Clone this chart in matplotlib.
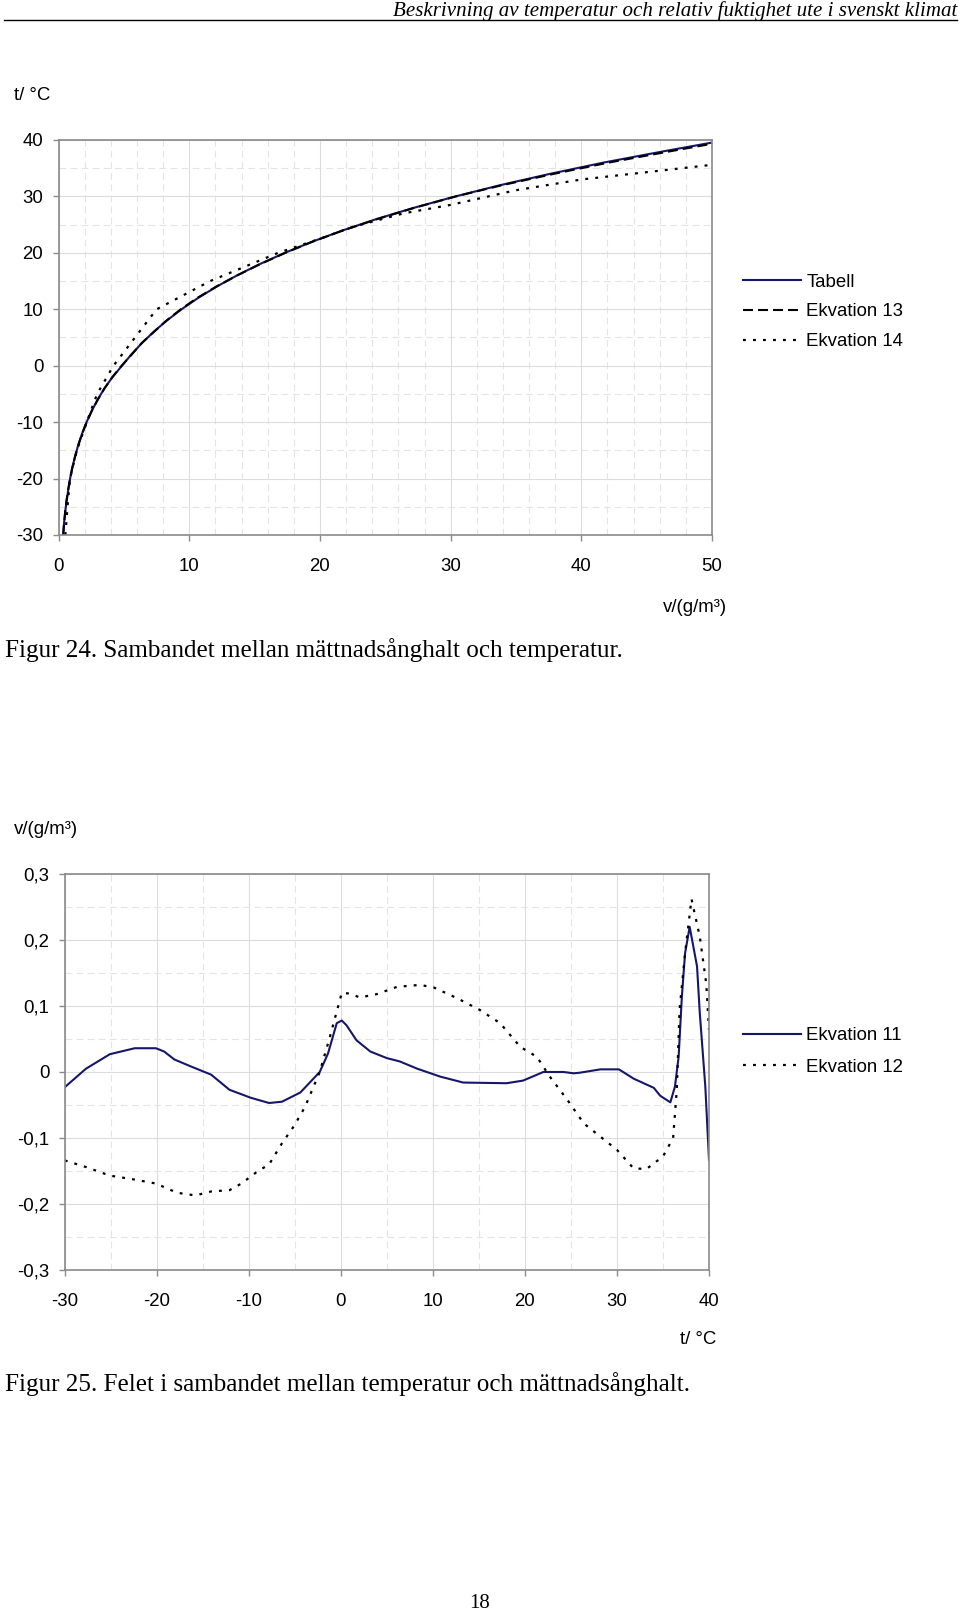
import numpy as np
import matplotlib
matplotlib.use('Agg')
import matplotlib.pyplot as plt
from matplotlib.lines import Line2D

# Figur 24: temperatur mot mättnadsånghalt
tabell_t = [-30, -28, -26, -24, -22, -20, -18, -16, -14, -12, -10, -8, -6, -4, -2, 0,
            2, 4, 6, 8, 10, 12, 14, 16, 18, 20, 22, 24, 26, 28, 30, 32, 34, 36, 38, 40]
tabell_v = [0.34, 0.41, 0.50, 0.61, 0.74, 0.88, 1.05, 1.27, 1.51, 1.80, 2.14, 2.54, 2.99, 3.51, 4.13, 4.85,
            5.57, 6.37, 7.27, 8.28, 9.41, 10.67, 12.08, 13.65, 15.39, 17.31, 19.43, 21.77, 24.34, 27.21,
            30.36, 33.8, 37.6, 41.7, 46.3, 51.1]
ekv13_v = [0.36, 0.42, 0.50, 0.60, 0.73, 0.88, 1.06, 1.27, 1.52, 1.81, 2.15, 2.54, 3.00, 3.52, 4.12, 4.82,
           5.60, 6.35, 7.30, 8.25, 9.35, 10.60, 12.05, 13.66, 15.42, 17.35, 19.45, 21.80, 24.40, 27.25,
           30.40, 33.95, 37.9, 42.1, 46.8, 51.6]
ekv14_t = [-30, -25, -20, -15, -10, -5, 0, 5, 10, 15, 20, 22.5, 24.6, 27.0, 28.5, 31.1, 33.0, 35.6]
ekv14_v = [0.52, 0.68, 0.87, 1.40, 2.15, 2.95, 4.20, 5.85, 7.50, 11.6, 16.8, 20.0, 22.5, 26.4, 30.0,
           35.0, 40.0, 50.0]

# Figur 25: felet i mättnadsånghalt
ekv11_t = [-30, -27.7, -25.1, -22.4, -20.1, -19.2, -18.1, -16.4, -14.1, -12.1, -9.8, -7.8, -6.4, -4.4,
           -2.3, -1.4, -0.45, 0.1, 0.6, 1.7, 3.2, 5.0, 6.4, 8.3, 10.8, 13.3, 18.0, 19.8, 22.0, 24.2,
           25.3, 26.0, 28.2, 30.2, 30.9, 31.8, 34.0, 34.7, 35.8, 36.3, 36.7, 37.05, 37.4, 37.9, 38.7,
           39.0, 39.6, 40.0]
ekv11_v = [-0.023, 0.005, 0.027, 0.036, 0.036, 0.031, 0.019, 0.009, -0.004, -0.027, -0.039, -0.047,
           -0.045, -0.031, 0.0, 0.028, 0.074, 0.078, 0.071, 0.048, 0.031, 0.021, 0.016, 0.005, -0.007,
           -0.016, -0.017, -0.013, 0.0, 0.0, -0.002, -0.001, 0.004, 0.004, -0.002, -0.010, -0.024,
           -0.036, -0.046, -0.022, 0.023, 0.114, 0.180, 0.220, 0.160, 0.089, -0.022, -0.133]
ekv12_t = [-30, -27.7, -25.1, -22.4, -20.1, -17.8, -15.8, -14.1, -12.1, -10.8, -9.1, -7.8, -6.4, -5.1,
           -3.9, -2.3, -1.2, 0.1, 0.8, 2.1, 3.9, 6.1, 8.6, 10.1, 12.6, 15.1, 17.3, 19.5, 21.3, 22.7,
           24.6, 26.4, 28.2, 30.0, 31.8, 33.2, 35.0, 36.1, 36.5, 36.8, 37.4, 38.1, 39.0, 39.7, 40.0]
ekv12_v = [-0.134, -0.144, -0.157, -0.163, -0.169, -0.183, -0.187, -0.181, -0.179, -0.169, -0.151,
           -0.140, -0.108, -0.082, -0.053, 0.0, 0.053, 0.120, 0.119, 0.113, 0.118, 0.129, 0.132, 0.128,
           0.112, 0.094, 0.074, 0.038, 0.023, -0.007, -0.042, -0.078, -0.098, -0.118, -0.146, -0.147,
           -0.128, -0.100, -0.027, 0.094, 0.180, 0.262, 0.205, 0.134, 0.064]

xticks1 = [0, 10, 20, 30, 40, 50]
yticks1 = [-30, -20, -10, 0, 10, 20, 30, 40]
xticks2 = [-30, -20, -10, 0, 10, 20, 30, 40]
yticks2 = [-0.3, -0.2, -0.1, 0, 0.1, 0.2, 0.3]
ylabels2 = ['-0,3', '-0,2', '-0,1', '0', '0,1', '0,2', '0,3']

W, H = 960, 1613
NAVY = '#16166a'
SANS = 'Liberation Sans'
SERIF = 'Liberation Serif'
FS = 13.4

plt.rcParams['font.family'] = SANS


def fx(x):
    return x / W


def fy(y):
    return 1 - y / H


def style_axes(ax, xmaj, xmin, ymaj, ymin):
    ax.set_xticks(xmaj)
    ax.set_xticks(xmin, minor=True)
    ax.set_yticks(ymaj)
    ax.set_yticks(ymin, minor=True)
    ax.grid(which='major', color='#dcdcdc', lw=0.8, ls='-')
    ax.grid(which='minor', color='#e4e4e4', lw=0.8, ls=(0, (6, 4)))
    ax.set_axisbelow(True)
    for s in ax.spines.values():
        s.set_color('#8a8a8a')
        s.set_linewidth(1.2)
    ax.tick_params(which='major', direction='out', length=4.5, width=1, color='#8a8a8a',
                   labelsize=FS, labelcolor='black')
    ax.tick_params(axis='x', pad=12.3)
    ax.tick_params(axis='y', pad=6.5)
    ax.tick_params(which='minor', length=0)


fig = plt.figure(figsize=(W / 100, H / 100), dpi=100)

# sidhuvud
fig.text(fx(957), fy(16), 'Beskrivning av temperatur och relativ fuktighet ute i svenskt klimat',
         ha='right', va='baseline', family=SERIF, style='italic', fontsize=15.1)
fig.add_artist(Line2D([fx(4), fx(957)], [fy(19.5), fy(19.5)], color='black', lw=1))

# --- Figur 24 ---
ax1 = fig.add_axes([fx(58.6), fy(535), fx(712 - 58.6), (535 - 140) / H])
ax1.plot(tabell_v, tabell_t, color=NAVY, lw=1.5, label='Tabell')
ax1.plot(ekv13_v, tabell_t, color='black', lw=1.5, ls=(0, (4.8, 2.4)), label='Ekvation 13')
ax1.plot(ekv14_v, ekv14_t, color='black', lw=1.6, ls=(0, (1.3, 3.2)), label='Ekvation 14')
ax1.set_xlim(0, 50)
ax1.set_ylim(-30, 40)
style_axes(ax1, xticks1, np.arange(0, 50.1, 2), yticks1, np.arange(-30, 40.1, 5))
ax1.set_xticklabels([str(v) for v in xticks1])
ax1.set_yticklabels([str(v) for v in yticks1])
ax1.legend(loc='upper left', bbox_to_anchor=(fx(743), fy(273.5)), bbox_transform=fig.transFigure,
           frameon=False, fontsize=FS, handlelength=3.1, handletextpad=0.3,
           labelspacing=0.69, borderpad=0, borderaxespad=0)

fig.text(fx(14), fy(95), 't/ °C', ha='left', va='center', fontsize=FS)
fig.text(fx(727), fy(607), 'v/(g/m³)', ha='right', va='center', fontsize=FS)
fig.text(fx(5), fy(650), 'Figur 24. Sambandet mellan mättnadsånghalt och temperatur.',
         ha='left', va='center', family=SERIF, fontsize=18.1)

# --- Figur 25 ---
ax2 = fig.add_axes([fx(64.8), fy(1270), fx(709 - 64.8), (1270 - 874) / H])
ax2.plot(ekv11_t, ekv11_v, color=NAVY, lw=1.5, label='Ekvation 11')
ax2.plot(ekv12_t, ekv12_v, color='black', lw=1.6, ls=(0, (1.3, 3.2)), label='Ekvation 12')
ax2.set_xlim(-30, 40)
ax2.set_ylim(-0.3, 0.3)
style_axes(ax2, xticks2, np.arange(-30, 40.1, 5), yticks2, np.arange(-0.3, 0.301, 0.05))
ax2.set_xticklabels([str(v) for v in xticks2])
ax2.set_yticklabels(ylabels2)
ax2.legend(loc='upper left', bbox_to_anchor=(fx(743), fy(1027)), bbox_transform=fig.transFigure,
           frameon=False, fontsize=FS, handlelength=3.1, handletextpad=0.3,
           labelspacing=0.80, borderpad=0, borderaxespad=0)

fig.text(fx(14), fy(830), 'v/(g/m³)', ha='left', va='center', fontsize=FS)
fig.text(fx(716), fy(1340), 't/ °C', ha='right', va='center', fontsize=FS)
fig.text(fx(5), fy(1384), 'Figur 25. Felet i sambandet mellan temperatur och mättnadsånghalt.',
         ha='left', va='center', family=SERIF, fontsize=18.1)

fig.text(fx(480), fy(1604), '18', ha='center', va='center', family=SERIF, fontsize=15)

fig.savefig('out.png', dpi=100)
